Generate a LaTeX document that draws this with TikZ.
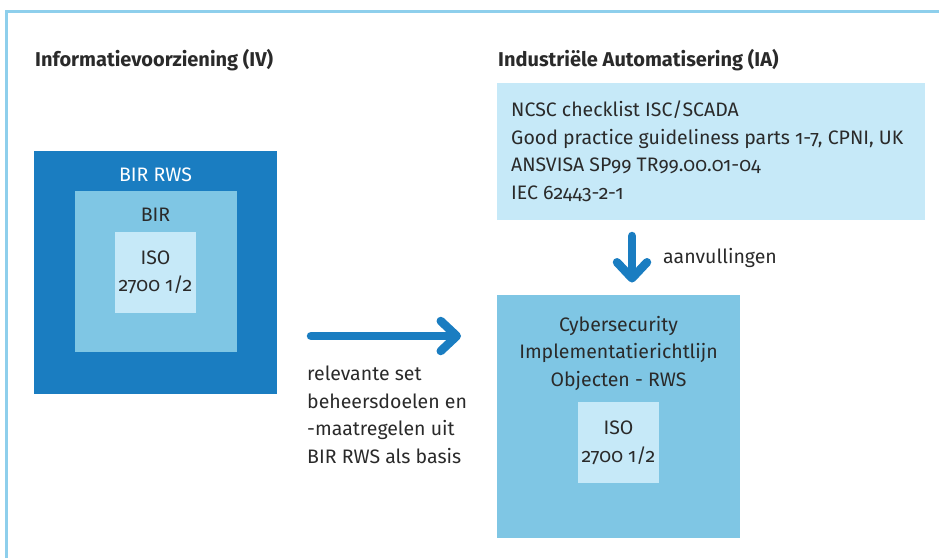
\documentclass[tikz,border=0pt]{standalone}
\usepackage{fontspec}
\setmainfont{Fira Sans}[Numbers=OldStyle]
\usetikzlibrary{arrows.meta}
\definecolor{dkblue}{HTML}{1A7DC1}
\definecolor{mdblue}{HTML}{7FC6E4}
\definecolor{ltblue}{HTML}{C6E9F8}
\definecolor{frameblue}{HTML}{8ECFEC}
\definecolor{txtcol}{HTML}{2A2A2A}
\begin{document}
\begin{tikzpicture}[x=1pt,y=-1pt,
  box/.style={anchor=north west, inner sep=0pt, outer sep=0pt, draw=none},
  body/.style={text=txtcol, inner sep=0pt, font=\fontsize{19.5}{27.5}\selectfont},
  ttl/.style={text=txtcol, inner sep=0pt, anchor=base west, font=\fontsize{20}{24}\selectfont\bfseries},
  bigarrow/.style={draw=dkblue, line width=8.5pt, line cap=round,
    -{Straight Barb[length=16pt,width=30pt,round]}}
]
\useasboundingbox (0,0) rectangle (939,558);
\draw[frameblue, line width=2.7pt] (6.5,558) -- (6.5,11.3) -- (939,11.3);

% titles
\node[ttl] (t1) at (35,66) {Informatievoorziening (IV)};
\node[ttl] (t2) at (498,66) {Industriële Automatisering (IA)};

% left nested boxes
\node[box, fill=dkblue, minimum width=243pt, minimum height=243pt] (birrws) at (34,151) {};
\node[box, fill=mdblue, minimum width=162pt, minimum height=161pt] (bir) at (75,191) {};
\node[box, fill=ltblue, minimum width=81pt, minimum height=81pt] (iso1) at (115,232) {};
\node[body, text=white, anchor=base] (lbirrws) at (155.5,181) {BIR RWS};
\node[body, anchor=base] (lbir) at (155.5,221) {BIR};
\node[body, anchor=base] (liso1a) at (155.5,264) {ISO};
\node[body, anchor=base] (liso1b) at (155.5,291) {2700 1/2};

% right top box
\node[box, fill=ltblue, minimum width=428pt, minimum height=137pt] (iabox) at (497,83) {};
\node[body, anchor=base west, align=left] (lia) at (511,199)
  {NCSC checklist ISC/SCADA\\Good practice guideliness parts 1-7, CPNI, UK\\ANSVISA SP99 TR99.00.01-04\\IEC 62443-2-1};

% cybersecurity box
\node[box, fill=mdblue, minimum width=243pt, minimum height=243pt] (cyber) at (497,295) {};
\node[box, fill=ltblue, minimum width=81pt, minimum height=81pt] (iso2) at (578,402) {};
\node[body, anchor=base, align=center] (lcyber) at (618.5,386)
  {Cybersecurity\\Implementatierichtlijn\\Objecten - RWS};
\node[body, anchor=base] (liso2a) at (618.5,434) {ISO};
\node[body, anchor=base] (liso2b) at (618.5,462) {2700 1/2};

% arrows
\coordinate (hy) at (0,336);
\coordinate (vx) at (632,0);
\draw[bigarrow, shorten <=34pt, shorten >=36pt] (birrws.east |- hy) -- (cyber.west |- hy);
\draw[bigarrow, shorten <=16pt, shorten >=12.5pt] (iabox.south -| vx) -- (cyber.north -| vx);

\node[body, anchor=base west] (laanv) at (663,263) {aanvullingen};
\node[body, anchor=base west, align=left] (lrel) at (307,463)
  {relevante set\\beheersdoelen en\\-maatregelen uit\\BIR RWS als basis};
\end{tikzpicture}
\end{document}
